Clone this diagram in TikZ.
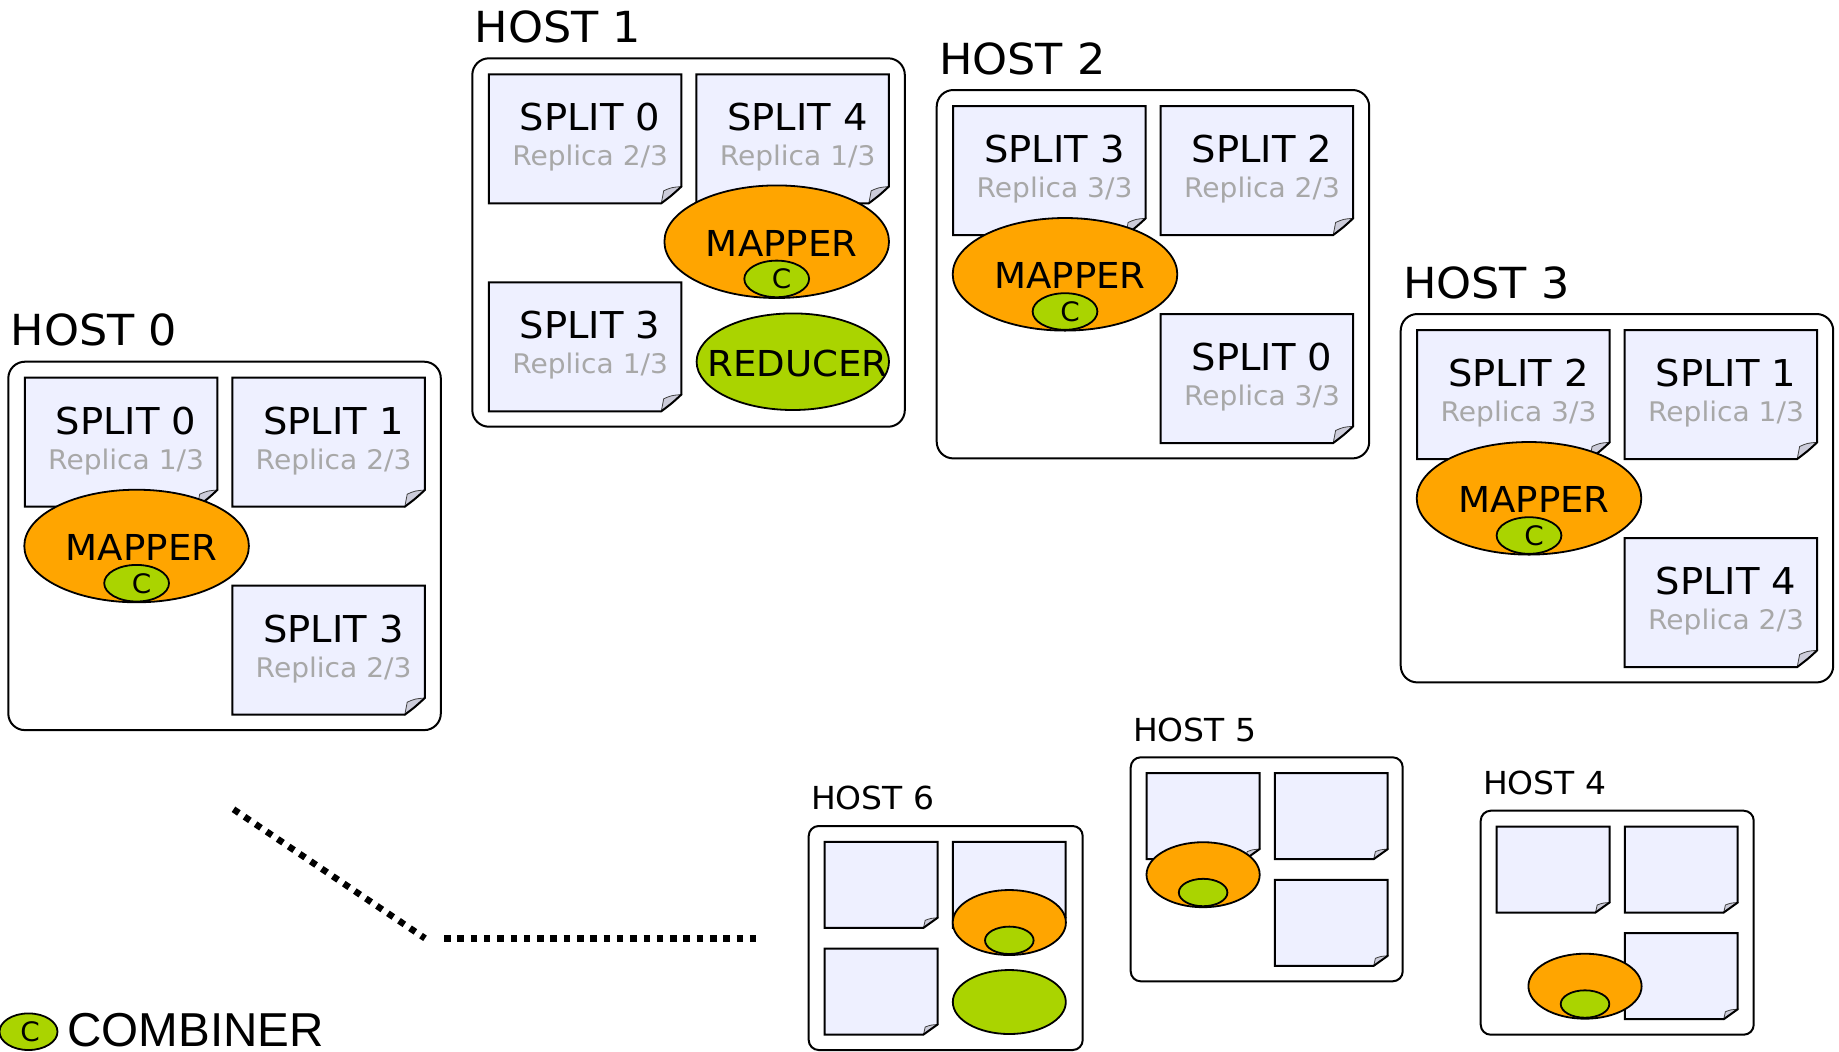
\documentclass[tikz,border=0pt]{standalone}
\usepackage{fontspec}
\setmainfont{DejaVu Sans}[FakeStretch=1.04]
\newfontfamily\legendfont{Liberation Sans}
\usetikzlibrary{shapes.geometric}

\definecolor{docfill}{RGB}{238,240,255}
\definecolor{flapgray}{RGB}{204,204,218}
\definecolor{mapperorange}{RGB}{255,165,0}
\definecolor{combgreen}{RGB}{170,212,0}
\definecolor{replicagray}{RGB}{168,168,168}

\tikzset{
  hostbox/.style={draw=black, line width=1pt, rounded corners=8.3pt, fill=white},
  smallbox/.style={draw=black, line width=1pt, rounded corners=5pt, fill=white},
  pageline/.style={draw=black, line width=1pt, line join=miter},
  flapline/.style={draw=black!75, fill=flapgray, line width=0.4pt},
  mapperell/.style={ellipse, draw=black, line width=0.9pt, fill=mapperorange, inner sep=0pt},
  combell/.style={ellipse, draw=black, line width=0.9pt, fill=combgreen, inner sep=0pt},
  hostlabel/.style={anchor=base west, inner sep=0pt, font=\fontsize{21.4}{24}\selectfont},
  smalllabel/.style={anchor=base west, inner sep=0pt, font=\fontsize{15.85}{18}\selectfont},
  splittext/.style={anchor=base, inner sep=0pt, font=\fontsize{18.5}{21}\selectfont},
  replicatext/.style={anchor=base, inner sep=0pt, text=replicagray, font=\fontsize{13.5}{16}\selectfont},
  roletext/.style={anchor=base, inner sep=0pt, font=\fontsize{17.85}{20}\selectfont},
  ctext/.style={anchor=base, inner sep=0pt, font=\fontsize{13.4}{15}\selectfont},
  dotline/.style={line width=3.25pt, dash pattern=on 3.25pt off 3.4pt, line cap=butt},
}

% a sheet of paper with a curled bottom-right corner: width, height, fold width, fold height
\newcommand\sheetshape[4]{%
  \fill[docfill] (0,0) -- (#1,0) -- (#1,#2-#4) .. controls (#1-0.45*#3,#2-0.5*#4) .. (#1-#3,#2) -- (0,#2) -- cycle;
  \draw[flapline] (#1,#2-#4) .. controls (#1-0.5*#3,#2-0.95*#4) .. (#1-0.88*#3,#2-0.75*#4) -- (#1-#3,#2)
     .. controls (#1-0.45*#3,#2-0.5*#4) .. (#1,#2-#4) -- cycle;
  \draw[pageline] (0,0) -- (#1,0) -- (#1,#2-#4) .. controls (#1-0.45*#3,#2-0.5*#4) .. (#1-#3,#2) -- (0,#2) -- cycle;
}

% large split sheet: name, x, y, title, replica
\newcommand\bigsheet[5]{%
  \begin{scope}[shift={(#2,#3)}]
    \sheetshape{192.5}{129}{20}{16.7}
    \node[splittext] (#1-s) at (101.3,56.3) {#4};
    \node[replicatext] (#1-r) at (101.3,91.3) {#5};
  \end{scope}}

% small blank sheet: x, y
\newcommand\smallsheet[2]{%
  \begin{scope}[shift={(#1,#2)}]
    \sheetshape{112.8}{86}{14}{10}
  \end{scope}}

% large mapper with its combiner: name, cx, cy
\newcommand\bigmapper[3]{%
  \node[mapperell, minimum width=112.3pt, minimum height=56.3pt] (#1) at (#2,#3) {};
  \node[roletext] (#1-t) at (#2+5,#3+14.4) {MAPPER};
  \node[combell, minimum width=32.4pt, minimum height=18.3pt] (#1-c) at (#2,#3+37.2) {};
  \node[ctext] (#1-ct) at (#2+5,#3+47) {C};}

% small unlabelled mapper with its combiner: name, cx, cy
\newcommand\smallmapper[3]{%
  \node[mapperell, minimum width=56.6pt, minimum height=32.5pt] (#1) at (#2,#3) {};
  \node[combell, minimum width=24.3pt, minimum height=13.7pt] (#1-c) at (#2,#3+17.8) {};}

\begin{document}
\begin{tikzpicture}[x=0.5pt, y=-0.5pt]
\useasboundingbox (0,0) rectangle (1839,1051);

% ---------- HOST 0 ----------
\begin{scope}[shift={(8.3,361.7)}]
  \draw[hostbox] (0,0) rectangle (432.5,368.4);
  \node[hostlabel] (h0-label) at (2,-16) {HOST 0};
  \bigsheet{h0-p0}{16.5}{16}{SPLIT 0}{Replica 1/3}
  \bigsheet{h0-p1}{224}{16}{SPLIT 1}{Replica 2/3}
  \bigsheet{h0-p3}{224}{224}{SPLIT 3}{Replica 2/3}
  \bigmapper{h0-map}{128.3}{184.3}
\end{scope}

% ---------- HOST 1 ----------
\begin{scope}[shift={(472.3,58.3)}]
  \draw[hostbox] (0,0) rectangle (432.5,368.4);
  \node[hostlabel] (h1-label) at (2,-16) {HOST 1};
  \bigsheet{h1-p0}{16.5}{16}{SPLIT 0}{Replica 2/3}
  \bigsheet{h1-p4}{224}{16}{SPLIT 4}{Replica 1/3}
  \bigsheet{h1-p3}{16.5}{224}{SPLIT 3}{Replica 1/3}
  \bigmapper{h1-map}{304.4}{183.4}
  \node[combell, minimum width=96.2pt, minimum height=48.3pt] (h1-red) at (320.5,303.4) {};
  \node[roletext] (h1-red-t) at (325.2,318.4) {REDUCER};
\end{scope}

% ---------- HOST 2 ----------
\begin{scope}[shift={(936.7,90)}]
  \draw[hostbox] (0,0) rectangle (432.5,368.4);
  \node[hostlabel] (h2-label) at (2,-16) {HOST 2};
  \bigsheet{h2-p3}{16.5}{16}{SPLIT 3}{Replica 3/3}
  \bigsheet{h2-p2}{224}{16}{SPLIT 2}{Replica 2/3}
  \bigsheet{h2-p0}{224}{224}{SPLIT 0}{Replica 3/3}
  \bigmapper{h2-map}{128.3}{184.3}
\end{scope}

% ---------- HOST 3 ----------
\begin{scope}[shift={(1400.7,314)}]
  \draw[hostbox] (0,0) rectangle (432.5,368.4);
  \node[hostlabel] (h3-label) at (2,-16) {HOST 3};
  \bigsheet{h3-p2}{16.5}{16}{SPLIT 2}{Replica 3/3}
  \bigsheet{h3-p1}{224}{16}{SPLIT 1}{Replica 1/3}
  \bigsheet{h3-p4}{224}{224}{SPLIT 4}{Replica 2/3}
  \bigmapper{h3-map}{128.3}{184.3}
\end{scope}

% ---------- HOST 6 ----------
\begin{scope}[shift={(808.7,826)}]
  \draw[smallbox] (0,0) rectangle (274,224);
  \node[smalllabel] (h6-label) at (2,-16.3) {HOST 6};
  \smallsheet{16}{15.8}
  \smallsheet{144.2}{15.8}
  \smallsheet{16}{122.5}
  \smallmapper{h6-map}{200.6}{96.5}
  \node[combell, minimum width=56.5pt, minimum height=32pt] (h6-red) at (200.6,176) {};
\end{scope}

% ---------- HOST 5 ----------
\begin{scope}[shift={(1130.7,757.3)}]
  \draw[smallbox] (0,0) rectangle (272,224);
  \node[smalllabel] (h5-label) at (2,-16.3) {HOST 5};
  \smallsheet{16}{15.8}
  \smallsheet{144.2}{15.8}
  \smallsheet{144.2}{122.5}
  \smallmapper{h5-map}{72.4}{117.4}
\end{scope}

% ---------- HOST 4 ----------
\begin{scope}[shift={(1480.7,810.7)}]
  \draw[smallbox] (0,0) rectangle (273,224);
  \node[smalllabel] (h4-label) at (2,-16.3) {HOST 4};
  \smallsheet{16}{15.8}
  \smallsheet{144.2}{15.8}
  \smallsheet{144.2}{122.5}
  \smallmapper{h4-map}{104.3}{175.5}
\end{scope}

% ---------- ellipsis between host groups ----------
\coordinate (diag-a) at (233.5,809.3);
\coordinate (diag-b) at (425,938.3);
\coordinate (flat-a) at (444,938.7);
\coordinate (flat-b) at (758.5,938.7);
\draw[dotline] (diag-a) -- (diag-b);
\draw[dotline] (flat-a) -- (flat-b);

% ---------- legend ----------
\node[combell, minimum width=29pt, minimum height=18.3pt] (leg-c) at (28.5,1031.7) {};
\node[ctext] (leg-ct) at (30,1041.5) {C};
\node[anchor=base west, inner sep=0pt, text depth=0pt, font=\legendfont\fontsize{23.8}{26}\selectfont] (leg-t) at (67,1046.7) {COMBINER};
\end{tikzpicture}
\end{document}
